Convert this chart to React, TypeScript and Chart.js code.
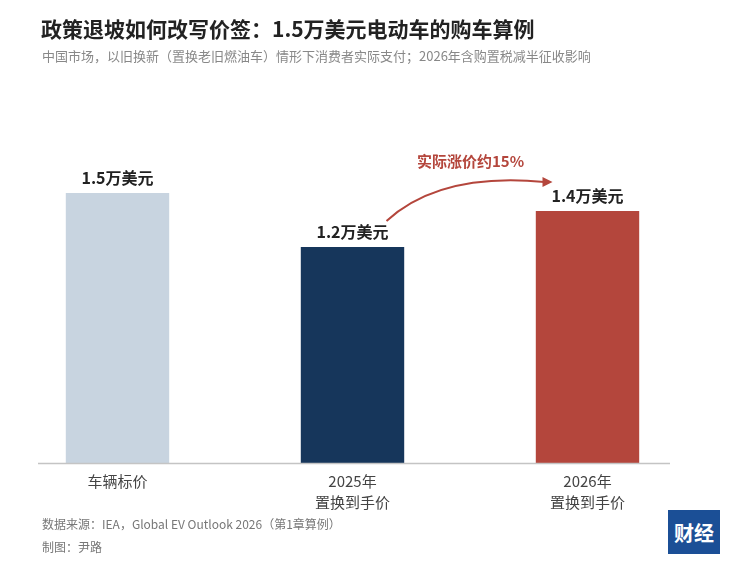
import { useEffect, useRef } from "react";
import Chart from "chart.js/auto";

const categories = [["车辆标价"], ["2025年", "置换到手价"], ["2026年", "置换到手价"]];
const prices = [1.5, 1.2, 1.4];
const valueLabels = ["1.5万美元", "1.2万美元", "1.4万美元"];
const barColors = ["#c8d4e0", "#16365b", "#b4463c"];
const arrowText = "实际涨价约15%";

const FONT = '"Noto Sans CJK SC", "Noto Sans", sans-serif';

export default function App() {
  const chartRef = useRef<HTMLCanvasElement>(null);

  useEffect(() => {
    const ctx = chartRef.current?.getContext("2d");
    if (!ctx) return;

    const decor = {
      id: "decor",
      afterDatasetsDraw(chart: any) {
        const c = chart.ctx;
        const x = chart.scales.x;
        const y = chart.scales.y;
        const base = y.getPixelForValue(0);
        c.save();
        // baseline
        c.strokeStyle = "#c4c4c4";
        c.lineWidth = 1.5;
        c.beginPath();
        c.moveTo(38, base + 0.5);
        c.lineTo(670, base + 0.5);
        c.stroke();
        // value labels
        c.textAlign = "center";
        c.textBaseline = "alphabetic";
        c.font = `bold 16px ${FONT}`;
        c.fillStyle = "#222";
        prices.forEach((v, i) => {
          c.fillText(valueLabels[i], x.getPixelForValue(i), y.getPixelForValue(v) - 9);
        });
        // category labels
        c.font = `15px ${FONT}`;
        c.fillStyle = "#444";
        categories.forEach((lines, i) => {
          lines.forEach((t, j) => {
            c.fillText(t, x.getPixelForValue(i), base + 24 + j * 21);
          });
        });
        // arrow
        const sx = x.getPixelForValue(1) + 34;
        const sy = y.getPixelForValue(prices[1]) - 26;
        const ex = x.getPixelForValue(2) - 37;
        const ey = y.getPixelForValue(prices[2]) - 29;
        const red = barColors[2];
        c.strokeStyle = red;
        c.fillStyle = red;
        c.lineWidth = 2;
        c.beginPath();
        c.moveTo(sx, sy);
        c.quadraticCurveTo(440, ey - 10, ex - 6, ey);
        c.stroke();
        c.beginPath();
        c.moveTo(ex + 2, ey);
        c.lineTo(ex - 8, ey - 5);
        c.lineTo(ex - 8, ey + 5);
        c.closePath();
        c.fill();
        c.font = `bold 15px ${FONT}`;
        c.fillText(arrowText, (sx + ex) / 2 + 2, 167);
        c.restore();
      },
    };

    const chart = new Chart(ctx, {
      type: "bar",
      data: {
        labels: categories.map((l) => l.join(" ")),
        datasets: [
          {
            data: prices,
            backgroundColor: barColors,
            barPercentage: 0.44,
            categoryPercentage: 1,
          },
        ],
      },
      options: {
        animation: false,
        responsive: false,
        layout: { padding: { top: 103, bottom: 99, left: 0, right: 45 } },
        scales: {
          x: { display: false },
          y: { display: false, min: 0, max: 2 },
        },
        plugins: { legend: { display: false }, tooltip: { enabled: false } },
      },
      plugins: [decor],
    });
    return () => chart.destroy();
  }, []);

  return (
    <div style={{ position: "fixed", left: 0, top: 0, width: 750, height: 562, background: "#fff", fontFamily: FONT }}>
      <canvas ref={chartRef} width={750} height={562} style={{ position: "absolute", left: 0, top: 0 }} />
      <div style={{ position: "absolute", left: 41, top: 13, fontSize: 21, fontWeight: 700, color: "#222" }}>
        政策退坡如何改写价签：1.5万美元电动车的购车算例
      </div>
      <div style={{ position: "absolute", left: 42, top: 46, fontSize: 13, color: "#888" }}>
        中国市场，以旧换新（置换老旧燃油车）情形下消费者实际支付；2026年含购置税减半征收影响
      </div>
      <div style={{ position: "absolute", left: 42, top: 515, fontSize: 12, color: "#777" }}>
        数据来源：IEA，Global EV Outlook 2026（第1章算例）
      </div>
      <div style={{ position: "absolute", left: 42, top: 538, fontSize: 12, color: "#777" }}>制图：尹路</div>
      <div
        style={{
          position: "absolute", left: 668, top: 510, width: 52, height: 44, background: "#1b4f96",
          color: "#fff", fontWeight: 700, fontSize: 20, display: "flex", alignItems: "center", justifyContent: "center",
        }}
      >
        财经
      </div>
    </div>
  );
}
